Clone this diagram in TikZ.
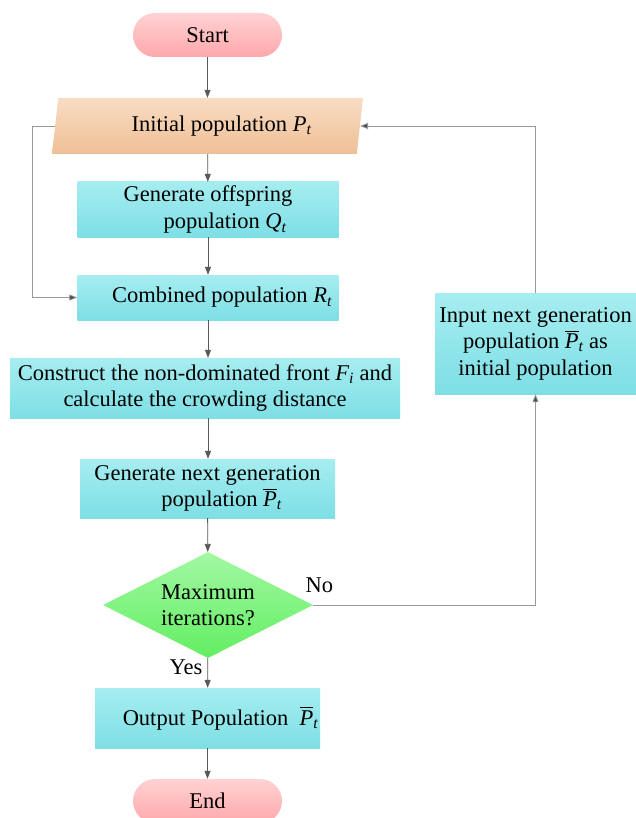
\documentclass[tikz,border=0pt]{standalone}
\usepackage{amsmath}
\usepackage{fontspec}
\setmainfont{Liberation Serif}
\usetikzlibrary{shapes.geometric,arrows.meta}
\definecolor{pinktop}{HTML}{FFD2D3}
\definecolor{pinkbot}{HTML}{FFA8AB}
\definecolor{peachtop}{HTML}{F8DCC4}
\definecolor{peachbot}{HTML}{EFC095}
\definecolor{cyantop}{HTML}{A6EDF0}
\definecolor{cyanbot}{HTML}{7DDFE5}
\definecolor{greentop}{HTML}{A2F8A2}
\definecolor{greenbot}{HTML}{62EE62}
\newcommand{\popvar}[2]{$\textit{#1}_{\textit{#2}}$}
\newcommand{\popbar}{$\overline{\textit{P}}_{\textit{t}}$}
\tikzset{
 term/.style={rectangle, rounded corners=22pt, minimum width=149pt, minimum height=44pt, inner sep=0pt, top color=pinktop, bottom color=pinkbot},
 io/.style={trapezium, trapezium left angle=73, trapezium right angle=107, trapezium stretches body, minimum width=311pt, minimum height=56pt, inner sep=0pt, top color=peachtop, bottom color=peachbot},
 proc/.style={rectangle, inner sep=0pt, align=center, top color=cyantop, bottom color=cyanbot},
 decide/.style={diamond, aspect=2, minimum width=210pt, minimum height=106pt, inner sep=0pt, align=center, top color=greentop, bottom color=greenbot},
 flow/.style={draw=black!65, line width=0.8pt, -{Triangle[length=8pt,width=6pt]}},
 loop/.style={draw=black!40, line width=0.8pt, -{Triangle[length=8pt,width=6pt,fill=black!70]}}
}
\begin{document}
\begin{tikzpicture}[x=1pt, y=-1pt, font=\fontsize{22.5}{26.5}\selectfont]
 \useasboundingbox (0,0) rectangle (636,818);
 % main column
 \node[term] (start) at (207.5,35) {Start};
 \node[io] (init) at (207.5,126) {\hspace*{28pt}Initial population \popvar{P}{t}};
 \node[proc, minimum width=261pt, minimum height=55pt] (offs) at (208,209.5) {Generate offspring\\ \hspace*{34pt}population \popvar{Q}{t}};
 \node[proc, minimum width=261pt, minimum height=45pt] (comb) at (208,297.5) {\hspace*{28pt}Combined population \popvar{R}{t}};
 \node[proc, minimum width=390pt, minimum height=60pt] (cons) at (205,388) {Construct the non-dominated front \popvar{F}{i} and\\ calculate the crowding distance};
 \node[proc, minimum width=255pt, minimum height=59pt] (next) at (207.5,488.5) {Generate next generation\\ \hspace*{28pt}population \popbar};
 \node[decide] (dec) at (208,605) {Maximum\\ iterations?};
 \node[proc, minimum width=225pt, minimum height=60pt] (out) at (207.5,718) {\hspace*{26pt}Output Population\ \ \popbar};
 \node[term] (end) at (207.5,801) {End};
 % side box
 \node[proc, minimum width=201pt, minimum height=101pt] (input) at (535.5,343.5) {Input next generation\\ population \popbar\ as\\ initial population};
 \coordinate (lft) at (32,0);

 \draw[flow] (start) -- (init);
 \draw[flow] (init) -- (offs);
 \draw[flow] (offs) -- (comb);
 \draw[flow] (comb.south) -- (comb.south |- cons.north);
 \draw[flow] (cons.south -| comb.south) -- (next.north -| comb.south);
 \draw[flow] (next) -- (dec);
 \draw[flow] (dec) -- node[pos=0, below left, inner sep=1pt, xshift=-4pt]{Yes} (out);
 \draw[flow] (out) -- (end);
 % loops
 \draw[loop] (init.west) -- (init.west -| lft) |- (comb.west);
 \draw[loop] (dec.east) node[above right, inner sep=2pt, xshift=-10pt, yshift=10pt]{No} -| (input.south);
 \draw[loop] (input.north) |- (init.east);
\end{tikzpicture}
\end{document}
